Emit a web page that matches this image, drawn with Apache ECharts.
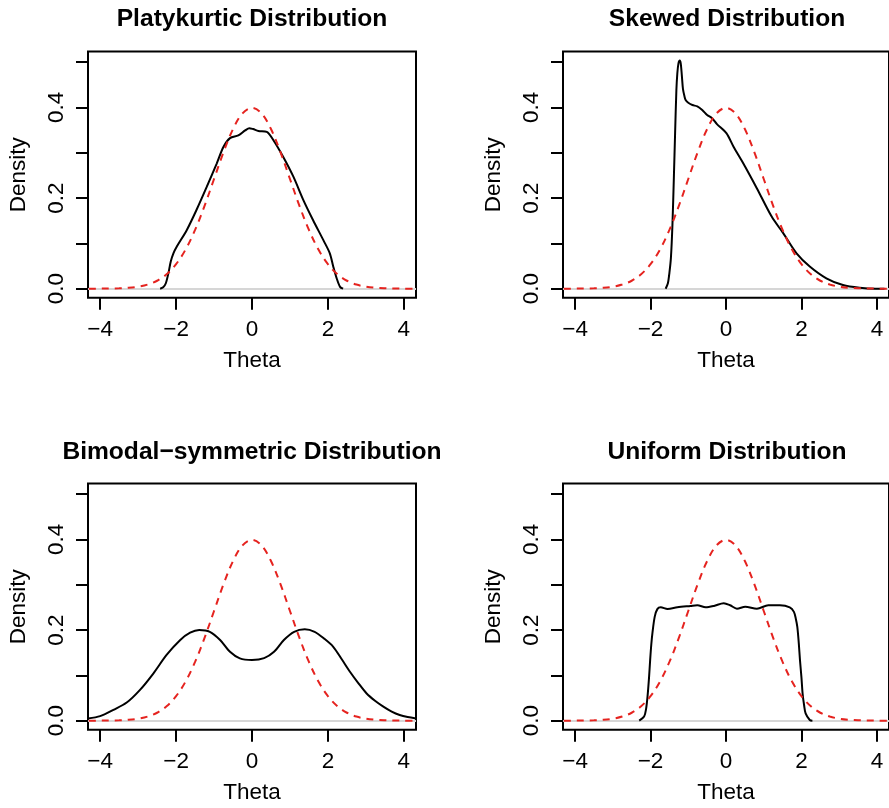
<!DOCTYPE html>
<html>
<head>
<meta charset="utf-8">
<script src="https://cdn.jsdelivr.net/npm/echarts@6/dist/echarts.min.js"></script>
<style>
html,body{margin:0;padding:0;background:#fff;}
#chart{width:889px;height:808px;}
</style>
</head>
<body>
<div id="chart"></div>
<script>
// ---- data ----
const titles = ['Platykurtic Distribution', 'Skewed Distribution', 'Bimodal\u2212symmetric Distribution', 'Uniform Distribution'];
const xTicks = [-4, -2, 0, 2, 4];
const yTicks = [0, 0.1, 0.2, 0.3, 0.4, 0.5];
const yTickLabels = [0, 0.2, 0.4];

// red dashed reference curve
const normX = [-4.3, -4.0, -3.75, -3.5, -3.25, -3.0, -2.75, -2.5, -2.25, -2.0, -1.75, -1.5, -1.25, -1.0, -0.75, -0.5, -0.25, 0,
               0.25, 0.5, 0.75, 1.0, 1.25, 1.5, 1.75, 2.0, 2.25, 2.5, 2.75, 3.0, 3.25, 3.5, 3.75, 4.0, 4.3];
const normY = [0.0000, 0.0001, 0.0004, 0.0009, 0.0020, 0.0044, 0.0091, 0.0175, 0.0317, 0.0540, 0.0863, 0.1295, 0.1826, 0.2420, 0.3011, 0.3521, 0.3867, 0.3989,
               0.3867, 0.3521, 0.3011, 0.2420, 0.1826, 0.1295, 0.0863, 0.0540, 0.0317, 0.0175, 0.0091, 0.0044, 0.0020, 0.0009, 0.0004, 0.0001, 0.0000];

// black curves
const platyX = [-2.42, -2.34, -2.27, -2.20, -2.14, -2.07, -1.98, -1.72, -1.46, -1.19, -0.93, -0.75, -0.58, -0.36, -0.18, -0.07, 0.03, 0.17, 0.39, 0.56, 0.82, 1.09, 1.35, 1.61, 1.88, 2.05, 2.14, 2.23, 2.32, 2.40];
const platyY = [0.000, 0.003, 0.012, 0.035, 0.060, 0.078, 0.093, 0.129, 0.174, 0.225, 0.276, 0.313, 0.332, 0.338, 0.349, 0.354, 0.352, 0.348, 0.346, 0.328, 0.291, 0.247, 0.196, 0.151, 0.107, 0.078, 0.049, 0.023, 0.004, 0.000];

const skewX = [-1.60, -1.54, -1.50, -1.46, -1.42, -1.38, -1.35, -1.315, -1.29, -1.26, -1.226, -1.20, -1.17, -1.14, -1.10, -1.07, -1.00, -0.89, -0.76, -0.63, -0.50, -0.37, -0.24, 0.01, 0.20, 0.46, 0.82, 1.21, 1.52, 1.87, 2.22, 2.66, 3.10, 3.54, 3.97, 4.20];
const skewY = [0.000, 0.012, 0.035, 0.068, 0.140, 0.250, 0.340, 0.438, 0.475, 0.497, 0.503, 0.497, 0.470, 0.440, 0.424, 0.416, 0.410, 0.405, 0.402, 0.394, 0.383, 0.376, 0.363, 0.343, 0.313, 0.276, 0.221, 0.159, 0.122, 0.078, 0.049, 0.023, 0.008, 0.002, 0.000, 0.000];

const bimodX = [-4.32, -4.0, -3.65, -3.30, -2.95, -2.60, -2.25, -1.89, -1.63, -1.39, -1.11, -0.84, -0.58, -0.32, 0.0, 0.32, 0.58, 0.84, 1.11, 1.39, 1.65, 1.90, 2.14, 2.36, 2.58, 2.80, 3.02, 3.24, 3.46, 3.68, 3.89, 4.10, 4.32];
const bimodY = [0.005, 0.010, 0.024, 0.040, 0.068, 0.104, 0.145, 0.178, 0.194, 0.200, 0.196, 0.178, 0.152, 0.1375, 0.134, 0.138, 0.152, 0.178, 0.196, 0.2015, 0.196, 0.181, 0.163, 0.136, 0.108, 0.083, 0.060, 0.044, 0.031, 0.020, 0.0125, 0.008, 0.005];

const unifX = [-2.30, -2.17, -2.12, -2.08, -2.04, -2.01, -1.98, -1.95, -1.89, -1.82, -1.73, -1.55, -1.29, -0.94, -0.76, -0.54, -0.32, -0.06, 0.11, 0.29, 0.51, 0.82, 1.12, 1.43, 1.69, 1.80, 1.85, 1.89, 1.93, 1.96, 2.00, 2.03, 2.07, 2.11, 2.22, 2.29];
const unifY = [0.000, 0.009, 0.025, 0.053, 0.095, 0.134, 0.168, 0.193, 0.229, 0.246, 0.250, 0.2465, 0.250, 0.253, 0.2545, 0.250, 0.253, 0.259, 0.2545, 0.247, 0.2515, 0.247, 0.2545, 0.2545, 0.250, 0.240, 0.225, 0.207, 0.170, 0.134, 0.095, 0.060, 0.034, 0.016, 0.0015, 0.000];

const curvesX = [platyX, skewX, bimodX, unifX];
const curvesY = [platyY, skewY, bimodY, unifY];

// ---- layout ----
const FONT = "'Liberation Sans', Arial, Helvetica, sans-serif";
const panels = [
  {left: 88,  top: 51.5, titleTop: 7},
  {left: 563, top: 51.5, titleTop: 7},
  {left: 88,  top: 483.5, titleTop: 439.5},
  {left: 563, top: 483.5, titleTop: 439.5}
];
const GW = 328, GH = 246.3;

function zip(xs, ys) { return xs.map((x, i) => [x, ys[i]]); }

const option = {
  animation: false,
  backgroundColor: '#fff',
  textStyle: {fontFamily: FONT},
  title: [], grid: [], xAxis: [], yAxis: [], series: []
};

panels.forEach((p, i) => {
  option.title.push({
    text: titles[i], left: p.left + GW / 2, top: p.titleTop, textAlign: 'center', padding: 0,
    textStyle: {fontFamily: FONT, fontSize: 24.6, fontWeight: 'bold', color: '#000'}
  });
  option.grid.push({
    left: p.left, top: p.top, width: GW, height: GH,
    show: true, borderColor: '#000', borderWidth: 2, backgroundColor: 'transparent'
  });
  option.xAxis.push({
    type: 'value', gridIndex: i, min: -4.32, max: 4.32,
    name: 'Theta', nameLocation: 'middle', nameGap: 51,
    nameTextStyle: {fontFamily: FONT, fontSize: 22.5, color: '#000'},
    axisLine: {show: false, onZero: false},
    axisTick: {show: true, inside: false, length: 12, customValues: xTicks, lineStyle: {color: '#000', width: 2}},
    axisLabel: {show: true, margin: 20, customValues: xTicks, fontFamily: FONT, fontSize: 22.5, color: '#000',
      formatter: v => String(v).replace('-', '\u2212')},
    splitLine: {show: false}
  });
  option.yAxis.push({
    type: 'value', gridIndex: i, min: -0.0201, max: 0.5231,
    name: 'Density', nameLocation: 'middle', nameGap: 58, nameRotate: 90,
    nameTextStyle: {fontFamily: FONT, fontSize: 22.5, color: '#000'},
    axisLine: {show: false, onZero: false},
    axisTick: {show: true, inside: false, length: 12, customValues: yTicks, lineStyle: {color: '#000', width: 2}},
    axisLabel: {show: true, margin: 20, rotate: 90, customValues: yTickLabels, fontFamily: FONT, fontSize: 22.5, color: '#000',
      formatter: v => v.toFixed(1)},
    splitLine: {show: false}
  });
  option.series.push({
    type: 'line', xAxisIndex: i, yAxisIndex: i, data: zip(curvesX[i], curvesY[i]),
    showSymbol: false, symbol: 'none', smooth: 0.3, z: 3,
    lineStyle: {color: '#000', width: 2},
    markLine: {
      z: 1, silent: true, symbol: ['none', 'none'], label: {show: false}, animation: false,
      lineStyle: {color: '#d6d6d6', type: 'solid', width: 2},
      emphasis: {disabled: true},
      data: [{yAxis: 0}]
    }
  });
  option.series.push({
    type: 'line', xAxisIndex: i, yAxisIndex: i, data: zip(normX, normY),
    showSymbol: false, symbol: 'none', smooth: 0.35, z: 4,
    lineStyle: {color: '#e5231f', width: 2, type: [7, 6]}
  });
});

const chart = echarts.init(document.getElementById('chart'), null, {renderer: 'canvas'});
chart.setOption(option);
</script>
</body>
</html>
